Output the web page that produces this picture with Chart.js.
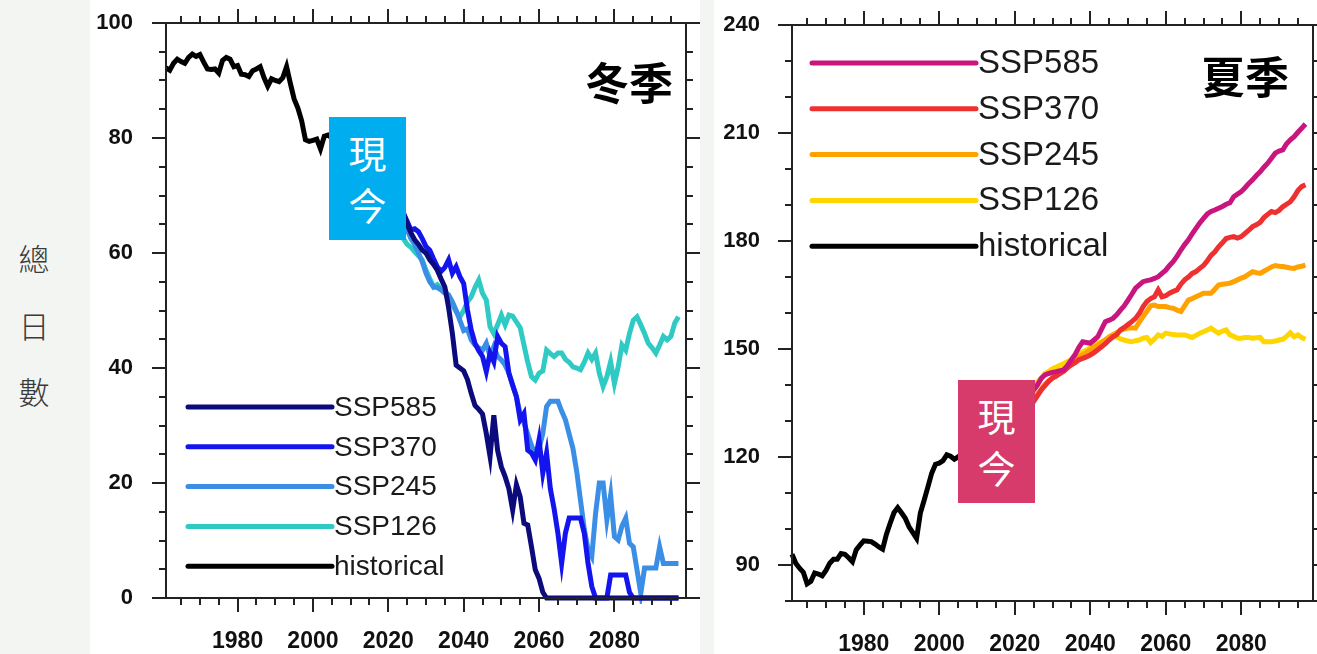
<!DOCTYPE html>
<html lang="zh-Hant">
<head>
<meta charset="utf-8">
<title>冬季 / 夏季 總日數</title>
<script src="https://cdn.jsdelivr.net/npm/chart.js@4.4.1/dist/chart.umd.min.js"></script>
<style>
  html, body { margin: 0; padding: 0; }
  body {
    width: 1317px; height: 654px; position: relative; overflow: hidden;
    background: #f2f5f2;
    font-family: "Liberation Sans", Arial, sans-serif;
  }
  .panel { position: absolute; top: 0; height: 654px; background: #fff; }
  #leftPanel { left: 90px; width: 610px; }
  #rightPanel { left: 714px; width: 603px; }
  canvas { display: block; }
  .ylab {
    position: absolute; left: 14px; width: 40px; text-align: center;
    font-family: "Noto Sans CJK TC", sans-serif; font-size: 31px; font-weight: 300;
    color: #3a3a3a; line-height: 40px;
  }
  .now {
    position: absolute; width: 77px; height: 123px; box-sizing: border-box;
    padding-top: 9px; color: #fff; text-align: center;
    font-family: "Noto Sans CJK TC", sans-serif; font-size: 38px; line-height: 52px;
  }
</style>
</head>
<body>
<div class="ylab" style="top:238px">總</div>
<div class="ylab" style="top:305px">日</div>
<div class="ylab" style="top:371px">數</div>

<div class="panel" id="leftPanel"><canvas id="winter" width="610" height="654"></canvas></div>
<div class="panel" id="rightPanel"><canvas id="summer" width="603" height="654"></canvas></div>

<div class="now" style="left:329px; top:117px; background:#00aeef">現<br>今</div>
<div class="now" style="left:958px; top:380px; background:#d63b6b">現<br>今</div>

<script>
// ---- data ----
const histStart = 1961;
const scenStart = 2015;
const seriesNames = ['SSP585', 'SSP370', 'SSP245', 'SSP126', 'historical'];
const xTickYears = [1980, 2000, 2020, 2040, 2060, 2080];
const winterTicks = [0, 20, 40, 60, 80, 100];
const summerTicks = [90, 120, 150, 180, 210, 240];

// winter (冬季)
const winterHist = [
  92.2, 91.8, 93.0, 93.7, 93.3, 93.0, 94.0, 94.6, 94.2, 94.5,
  93.2, 92.0, 91.9, 92.0, 91.3, 93.5, 94.0, 93.7, 92.4, 92.6,
  91.1, 91.0, 90.7, 91.7, 92.0, 92.4, 90.5, 89.0, 90.3, 90.0,
  89.8, 90.5, 92.4, 89.5, 86.8, 85.2, 83.0, 79.7, 79.4, 79.6,
  79.8, 78.1, 80.3, 80.5, 80.0, 79.2, 78.6, 78.0, 77.5, 77.0,
  76.4, 75.8, 75.2, 74.6
];
const winter585 = [
  74.5, 74.0, 73.0, 72.0, 71.0, 70.0, 69.0, 68.5, 68.0, 67.0,
  65.0, 63.5, 62.3, 61.5, 60.5, 60.0, 58.8, 58.0, 57.0, 55.5,
  54.1, 50.5, 46.0, 40.5, 40.0, 39.5, 38.0, 35.6, 33.5, 32.8,
  32.0, 28.6, 24.6, 31.8, 25.7, 22.8, 21.1, 19.0, 15.3, 19.7,
  17.6, 13.0, 12.7, 8.9, 4.9, 3.4, 1.0, 0, 0, 0,
  0, 0, 0, 0, 0, 0, 0, 0, 0, 0,
  0, 0, 0, 0, 0, 0, 0, 0, 0, 0,
  0, 0, 0, 0, 0, 0, 0, 0, 0, 0,
  0, 0, 0
];
const winter370 = [
  74.5, 74.0, 73.5, 72.5, 71.5, 70.5, 69.5, 68.5, 67.5, 66.9,
  65.5, 64.0, 64.2, 63.7, 62.5, 61.1, 60.5, 59.0, 57.6, 56.8,
  57.5, 58.8, 56.5, 57.6, 55.9, 54.7, 50.1, 46.6, 44.3, 43.0,
  42.0, 39.4, 42.6, 41.1, 45.5, 44.3, 43.7, 39.1, 37.0, 35.0,
  31.0, 32.1, 25.7, 25.2, 24.0, 27.5, 21.7, 25.2, 19.0, 15.5,
  11.3, 6.0, 11.3, 13.9, 13.9, 13.9, 13.9, 11.3, 6.0, 2.0,
  0, 0, 0, 0, 4.0, 4.0, 4.0, 4.0, 4.0, 1.0,
  0, 0, 0, 0, 0, 0, 0, 0, 0, 0,
  0, 0, 0
];
const winter245 = [
  74.0, 73.2, 72.5, 71.5, 70.0, 69.0, 68.0, 67.0, 66.0, 65.2,
  64.0, 62.5, 61.5, 60.0, 58.5, 56.5, 55.0, 54.1, 54.0, 53.6,
  53.0, 52.7, 51.5, 50.0, 48.3, 46.5, 46.8, 44.9, 44.0, 43.5,
  43.1, 44.3, 42.0, 43.7, 42.0, 41.4, 40.5, 39.1, 37.0, 35.0,
  32.0, 30.5, 28.5, 26.5, 25.0, 26.0, 28.6, 33.3, 34.2, 34.2,
  34.2, 32.5, 31.0, 28.5, 26.0, 22.0, 17.0, 12.0, 8.5, 7.2,
  14.7, 20.0, 20.0, 13.6, 17.9, 10.7, 10.1, 12.5, 13.9, 9.5,
  8.9, 4.9, 0.8, 5.2, 5.2, 5.2, 5.2, 8.9, 6.0, 6.0,
  6.0, 6.0, 6.0
];
const winter126 = [
  74.0, 73.0, 72.0, 70.5, 69.5, 68.0, 66.5, 65.0, 63.5, 62.5,
  61.5, 61.0, 60.2, 59.5, 58.8, 57.0, 55.5, 54.1, 54.5, 53.8,
  53.6, 52.5, 51.0, 49.8, 48.9, 50.0, 51.5, 52.4, 54.0, 55.3,
  53.0, 51.8, 47.2, 46.0, 47.5, 49.2, 47.5, 49.2, 49.0, 48.0,
  47.0, 44.0, 41.0, 38.5, 37.9, 39.1, 39.5, 43.1, 42.5, 42.0,
  42.6, 42.6, 41.5, 41.0, 40.2, 40.0, 39.7, 41.0, 42.6, 41.5,
  42.6, 39.1, 36.8, 38.5, 41.1, 37.3, 40.2, 44.0, 43.1, 46.0,
  48.3, 48.9, 47.5, 46.0, 44.3, 43.5, 42.6, 44.0, 45.5, 44.9,
  45.5, 47.8, 48.9
];

// summer (夏季)
const summerHist = [
  93.0, 90.5, 89.1, 88.0, 84.8, 85.5, 87.8, 87.5, 87.0, 88.5,
  90.5, 91.6, 91.6, 93.2, 93.0, 92.0, 90.9, 94.2, 95.5, 96.7,
  96.6, 96.5, 95.8, 95.0, 94.4, 98.5, 101.6, 104.5, 105.9, 104.5,
  103.0, 100.6, 99.0, 97.4, 104.4, 108.0, 111.7, 115.5, 118.0, 118.3,
  119.0, 120.6, 120.2, 119.4, 120.0, 121.0, 122.0, 123.0, 124.0, 125.0,
  126.5, 127.5, 128.5, 129.5
];
const summer585 = [
  130.5, 131.3, 132.0, 132.8, 133.5, 134.3, 135.0, 135.8, 136.5, 137.5,
  138.6, 140.0, 141.8, 142.8, 143.2, 143.5, 143.7, 144.0, 144.2, 145.5,
  147.0, 148.5, 150.5, 152.0, 151.8, 151.6, 152.5, 153.4, 155.5, 157.6,
  158.0, 158.5, 159.5, 160.8, 162.0, 163.6, 165.2, 166.9, 167.8, 168.7,
  169.0, 169.2, 169.6, 170.1, 171.0, 171.9, 173.2, 174.3, 175.8, 177.5,
  179.0, 180.3, 182.0, 183.5, 185.0, 186.3, 187.5, 188.2, 188.6, 189.1,
  189.6, 190.2, 190.6, 192.3, 193.0, 193.7, 194.8, 196.0, 197.0, 198.2,
  199.2, 200.5, 201.6, 203.0, 204.4, 205.0, 205.3, 207.0, 208.1, 209.0,
  210.2, 211.3, 212.5
];
const summer370 = [
  130.0, 130.5, 131.0, 131.5, 132.0, 132.5, 133.0, 133.5, 134.0, 134.8,
  135.4, 137.0, 138.6, 139.8, 141.0, 141.9, 142.5, 143.2, 143.8, 144.8,
  145.6, 146.2, 147.0, 147.4, 147.8, 148.3, 149.0, 149.8, 150.6, 151.5,
  152.5, 153.4, 154.0, 155.3, 156.0, 156.8, 157.6, 158.5, 159.9, 161.8,
  163.2, 164.0, 164.5, 166.4, 164.5, 164.8, 165.5, 166.0, 166.4, 168.0,
  169.2, 170.0, 171.0, 171.5, 172.4, 173.2, 174.5, 176.0, 177.0, 178.4,
  179.5, 180.7, 181.0, 181.2, 180.8, 181.2, 182.1, 183.0, 184.0, 184.5,
  185.2, 186.5, 187.4, 188.2, 187.9, 188.5, 189.5, 190.2, 190.9, 192.3,
  194.0, 195.1, 195.6
];
const summer245 = [
  130.3, 130.8, 131.4, 132.0, 132.6, 133.2, 133.8, 134.4, 135.0, 135.7,
  136.3, 137.5, 138.8, 140.2, 141.2, 142.0, 142.8, 143.5, 144.5, 145.3,
  146.2, 147.0, 147.9, 148.4, 149.0, 149.8, 150.5, 151.0, 151.8, 152.6,
  153.4, 154.0, 154.5, 155.2, 155.5, 155.8, 155.8, 155.8, 157.5, 159.0,
  160.5, 162.0, 162.2, 161.8, 161.8, 161.8, 161.5, 161.3, 160.8, 160.4,
  162.0, 163.6, 164.0, 164.5, 165.0, 165.5, 165.5, 165.5, 166.6, 167.8,
  168.0, 168.1, 168.3, 168.7, 169.2, 169.7, 170.1, 170.8, 171.5, 171.2,
  171.0, 171.6, 172.2, 172.8, 173.2, 173.0, 172.9, 172.7, 172.5, 172.4,
  172.8, 173.0, 173.3
];
const summer126 = [
  130.8, 131.5, 132.3, 133.0, 133.8, 134.6, 135.4, 136.2, 137.0, 138.2,
  139.5, 140.8, 142.0, 143.2, 143.8, 144.5, 145.0, 145.5, 146.0, 146.5,
  147.0, 147.8, 148.5, 149.2, 149.7, 150.3, 151.0, 151.6, 152.0, 152.5,
  153.0, 153.4, 153.4, 152.8, 152.5, 152.2, 152.0, 152.3, 152.5, 153.0,
  153.2, 151.8, 152.8, 153.9, 153.5, 154.4, 154.2, 154.0, 153.9, 153.9,
  153.9, 153.6, 153.2, 153.8, 154.4, 154.8, 155.3, 155.8, 155.0, 154.4,
  155.0, 155.3, 153.9, 153.5, 153.0, 153.0, 153.2, 153.2, 153.0, 153.1,
  153.2, 152.0, 152.0, 152.0, 152.2, 152.5, 152.7, 153.5, 154.5, 153.4,
  153.9, 153.2, 152.7
];

const winterColors = ['#0b0b7c', '#1414ee', '#3a8ee6', '#2fcac4', '#000000'];
const summerColors = ['#c8167e', '#ee3030', '#ffa200', '#ffd500', '#000000'];

// ---- helpers ----
function toPoints(start, values) {
  return values.map(function(v, i) { return { x: start + i, y: v }; });
}

function buildDatasets(series, colors) {
  return series.map(function(s, i) {
    return {
      label: seriesNames[i],
      data: toPoints(s.start, s.values),
      borderColor: colors[i],
      backgroundColor: colors[i],
      borderWidth: 5,
      pointRadius: 0,
      tension: 0,
      clip: 6
    };
  });
}

// frame with outward major/minor ticks on all four sides, plus title and legend
const panelDecor = {
  id: 'panelDecor',
  afterDraw: function(chart, args, o) {
    const ctx = chart.ctx;
    const a = chart.chartArea;
    const x = chart.scales.x, y = chart.scales.y;
    ctx.save();
    ctx.strokeStyle = '#222';
    ctx.lineWidth = 2;
    ctx.strokeRect(a.left, a.top, a.right - a.left, a.bottom - a.top);

    ctx.beginPath();
    for (let v = 1965; v < x.max; v += 5) {
      const len = xTickYears.includes(v) ? 14 : 7;
      const px = Math.round(x.getPixelForValue(v));
      ctx.moveTo(px, a.bottom); ctx.lineTo(px, a.bottom + len);
      ctx.moveTo(px, a.top); ctx.lineTo(px, a.top - len);
    }
    for (let v = y.min; v <= y.max; v += o.yMinor) {
      const len = o.yMajor.includes(v) ? 14 : 7;
      const py = Math.round(y.getPixelForValue(v));
      ctx.moveTo(a.left, py); ctx.lineTo(a.left - len, py);
      ctx.moveTo(a.right, py); ctx.lineTo(a.right + len, py);
    }
    ctx.stroke();

    // season title
    ctx.fillStyle = '#000';
    ctx.font = 'bold 44px "Noto Sans CJK TC", sans-serif';
    ctx.textAlign = 'center';
    ctx.textBaseline = 'middle';
    ctx.fillText(o.title, o.titleX, o.titleY);

    // legend
    ctx.font = o.legendFont + 'px "Liberation Sans", Arial, sans-serif';
    ctx.textAlign = 'left';
    ctx.lineCap = 'round';
    chart.data.datasets.forEach(function(ds, i) {
      const ly = o.legendY + i * o.legendDy;
      ctx.strokeStyle = ds.borderColor;
      ctx.lineWidth = 5;
      ctx.beginPath();
      ctx.moveTo(o.legendX0, ly);
      ctx.lineTo(o.legendX1, ly);
      ctx.stroke();
      ctx.fillStyle = '#1a1a1a';
      ctx.fillText(ds.label, o.legendX1 + 2, ly + 1);
    });
    ctx.restore();
  }
};

function makeChart(id, datasets, cfg) {
  const yFont = { family: '"Liberation Sans", Arial, sans-serif', size: 22, weight: 'bold' };
  const xFont = { family: '"Liberation Sans", Arial, sans-serif', size: 23, weight: 'bold' };
  return new Chart(document.getElementById(id), {
    type: 'line',
    data: { datasets: datasets },
    plugins: [panelDecor],
    options: {
      responsive: false,
      animation: false,
      devicePixelRatio: 1,
      layout: { padding: { top: cfg.padTop, right: cfg.padRight, left: 0, bottom: 0 } },
      plugins: {
        legend: { display: false },
        tooltip: { enabled: false },
        panelDecor: cfg.decor
      },
      scales: {
        x: {
          type: 'linear',
          min: 1961,
          max: 2099,
          afterBuildTicks: function(s) { s.ticks = xTickYears.map(function(v) { return { value: v }; }); },
          afterFit: function(s) { s.height = cfg.xHeight; s.paddingLeft = 0; s.paddingRight = 0; },
          grid: { display: false, drawTicks: false },
          border: { display: false },
          ticks: {
            padding: cfg.xPad, color: '#111', font: xFont, maxRotation: 0, autoSkip: false,
            callback: function(v) { return String(v); }
          }
        },
        y: {
          type: 'linear',
          min: cfg.yMin,
          max: cfg.yMax,
          afterBuildTicks: function(s) { s.ticks = cfg.yTicks.map(function(v) { return { value: v }; }); },
          afterFit: function(s) { s.width = cfg.yWidth; s.paddingTop = 0; s.paddingBottom = 0; },
          grid: { display: false, drawTicks: false },
          border: { display: false },
          ticks: {
            padding: cfg.yPad, color: '#111', font: yFont,
            callback: function(v) { return String(v); }
          }
        }
      }
    }
  });
}

document.addEventListener('DOMContentLoaded', function() {
  const winterSets = buildDatasets([
    { start: scenStart, values: winter585 },
    { start: scenStart, values: winter370 },
    { start: scenStart, values: winter245 },
    { start: scenStart, values: winter126 },
    { start: histStart, values: winterHist }
  ], winterColors);

  const summerSets = buildDatasets([
    { start: scenStart, values: summer585 },
    { start: scenStart, values: summer370 },
    { start: scenStart, values: summer245 },
    { start: scenStart, values: summer126 },
    { start: histStart, values: summerHist }
  ], summerColors);

  makeChart('winter', winterSets, {
    padTop: 23, padRight: 14, xHeight: 56, yWidth: 76, xPad: 30, yPad: 33,
    yMin: 0, yMax: 100, yTicks: winterTicks,
    decor: {
      yMinor: 5, yMajor: winterTicks, title: '冬季', titleX: 539, titleY: 83,
      legendX0: 98, legendX1: 242, legendY: 407, legendDy: 39.8, legendFont: 28
    }
  });

  makeChart('summer', summerSets, {
    padTop: 25, padRight: 4, xHeight: 53, yWidth: 78, xPad: 30, yPad: 32,
    yMin: 80, yMax: 240, yTicks: summerTicks,
    decor: {
      yMinor: 10, yMajor: summerTicks, title: '夏季', titleX: 531, titleY: 77,
      legendX0: 98, legendX1: 262, legendY: 63, legendDy: 45.8, legendFont: 33
    }
  });
});
</script>
</body>
</html>
